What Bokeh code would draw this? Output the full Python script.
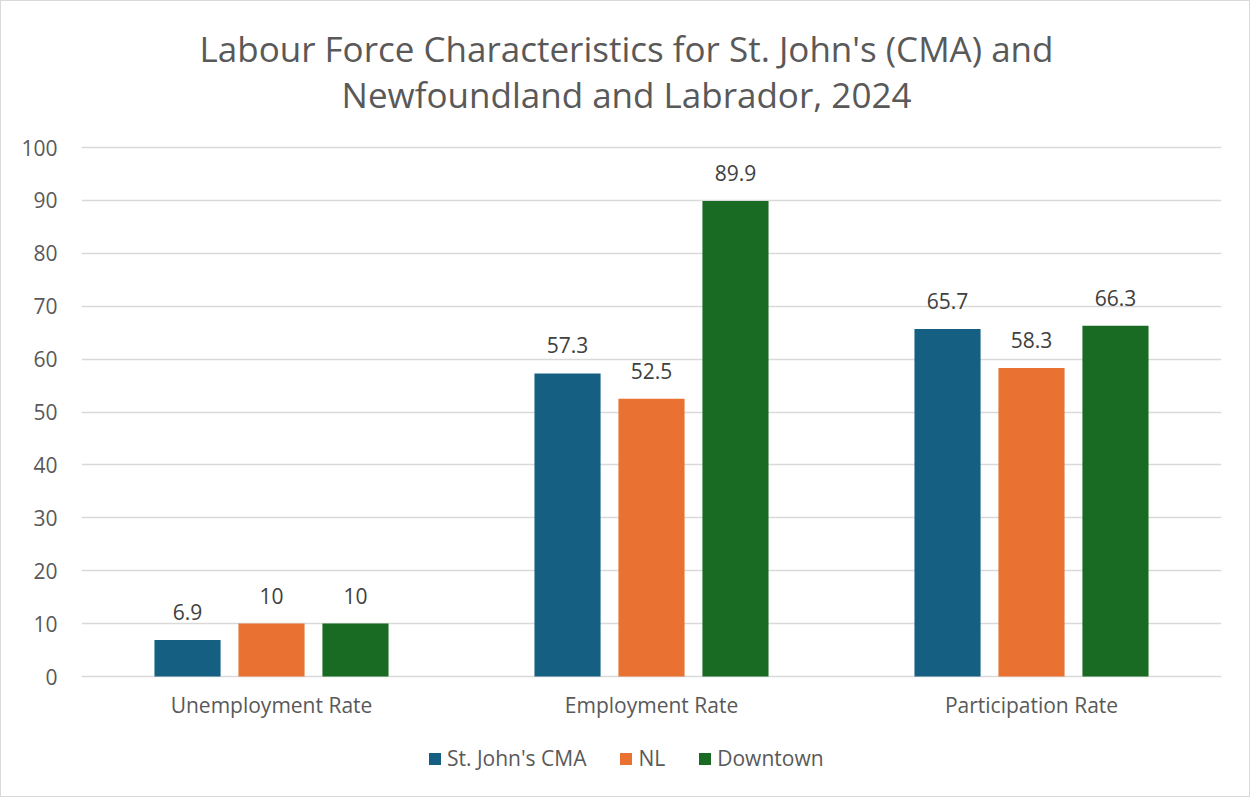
from bokeh.plotting import figure
from bokeh.models import ColumnDataSource, Legend, LegendItem, FactorRange, LabelSet
from bokeh.transform import dodge
from bokeh.core.properties import value
from bokeh.embed import file_html
from bokeh.resources import INLINE

categories = ["Unemployment Rate", "Employment Rate", "Participation Rate"]
series_names = ["St. John's CMA", "NL", "Downtown"]
stjohns = [6.9, 57.3, 65.7]
nl = [10, 52.5, 58.3]
downtown = [10, 89.9, 66.3]
colors = ["#156082", "#E97132", "#196B24"]
title_lines = ["Labour Force Characteristics for St. John's (CMA) and",
               "Newfoundland and Labrador, 2024"]
y_ticks = list(range(0, 101, 10))

FONT = "Open Sans"
TEXT = "#595959"
FS = "21px"

# the frame spans the full height; the value axis 0..100 occupies pixels 146..675
TOP, ZERO_PX, H = 146, 675, 797
px_per_unit = (ZERO_PX - TOP) / 100
y_min = -(H - ZERO_PX) / px_per_unit
y_max = 100 + TOP / px_per_unit

src = ColumnDataSource(dict(
    cat=categories,
    zero=[0] * len(categories),
    s0=stjohns, s1=nl, s2=downtown,
    l0=[f"{v:g}" for v in stjohns],
    l1=[f"{v:g}" for v in nl],
    l2=[f"{v:g}" for v in downtown],
))

p = figure(width=1250, height=H, x_range=FactorRange(*categories), y_range=(y_min, y_max),
           output_backend="svg", toolbar_location=None, title=None,
           min_border_left=80, min_border_right=30, min_border_top=0, min_border_bottom=0)

# two-line chart title, centred on the canvas
for line, dy in zip(title_lines, [47, 93]):
    p.text(x=[categories[1]], y=[y_max], text=[line], text_align="center", text_baseline="middle",
           x_offset=-25, y_offset=dy, text_font=value(FONT), text_font_size="35px", text_color=TEXT)

offsets = [-0.221, 0.0, 0.221]
items = []
for i, (name, col, off) in enumerate(zip(series_names, colors, offsets)):
    r = p.vbar(x=dodge("cat", off, range=p.x_range), top=f"s{i}", width=0.174, source=src,
               fill_color=col, line_color=None)
    items.append(LegendItem(label=name, renderers=[r]))
    lbl = LabelSet(x=dodge("cat", off, range=p.x_range), y=f"s{i}", text=f"l{i}", source=src,
                   text_align="center", text_baseline="bottom", y_offset=20,
                   text_font=value(FONT), text_font_size=FS, text_color="#404040")
    p.add_layout(lbl)

# category labels under the zero line
p.text(x="cat", y="zero", text="cat", source=src, text_align="center", text_baseline="middle",
       y_offset=28, text_font=value(FONT), text_font_size=FS, text_color=TEXT)

p.x_range.range_padding = 0
p.x_range.group_padding = 0
p.xaxis.visible = False

p.xgrid.grid_line_color = None
p.ygrid.grid_line_color = "#D9D9D9"
p.ygrid.grid_line_width = 1.3
p.yaxis.ticker = y_ticks
p.yaxis.axis_line_color = None
p.yaxis.major_tick_line_color = None
p.yaxis.minor_tick_line_color = None
p.yaxis.major_label_text_font = FONT
p.yaxis.major_label_text_font_size = FS
p.yaxis.major_label_text_color = TEXT
p.yaxis.major_label_standoff = 18

p.outline_line_color = None
p.background_fill_color = "white"
p.border_fill_color = "white"

legend = Legend(items=items, orientation="horizontal", location=(346, 26),
                label_text_font=FONT, label_text_font_size=FS, label_text_color=TEXT,
                glyph_width=15, glyph_height=15, spacing=32, label_standoff=5,
                border_line_color=None, background_fill_alpha=0, margin=0, padding=4)
p.add_layout(legend, "center")

p.styles = {"border": "1.5px solid #D9D9D9", "box-sizing": "border-box"}

open("out.html", "w").write(file_html(p, INLINE))
